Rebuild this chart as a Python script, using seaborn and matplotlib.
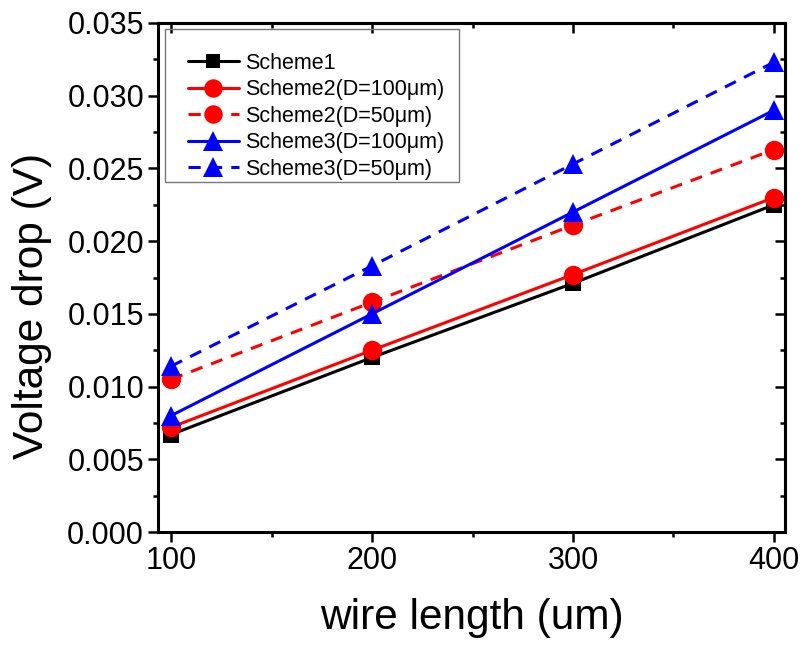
import numpy as np
import pandas as pd
import matplotlib
matplotlib.use("Agg")
import matplotlib.pyplot as plt
import seaborn as sns
from matplotlib.ticker import MultipleLocator
from matplotlib.patches import Rectangle

wire_length = [100, 200, 300, 400]
scheme1 = [0.0067, 0.0120, 0.0171, 0.0225]
scheme2_d100 = [0.0072, 0.0125, 0.0177, 0.0230]
scheme2_d50 = [0.0105, 0.0158, 0.0211, 0.0263]
scheme3_d100 = [0.0080, 0.0150, 0.0220, 0.0290]
scheme3_d50 = [0.0114, 0.0183, 0.0253, 0.0323]

labels = ["Scheme1", "Scheme2(D=100μm)", "Scheme2(D=50μm)",
          "Scheme3(D=100μm)", "Scheme3(D=50μm)"]
series = [scheme1, scheme2_d100, scheme2_d50, scheme3_d100, scheme3_d50]

sns.set_style("ticks")
plt.rcParams['font.family'] = ['Liberation Sans', 'DejaVu Sans']
plt.rcParams.update({
    "text.color": "black", "axes.labelcolor": "black",
    "xtick.color": "black", "ytick.color": "black",
    "axes.edgecolor": "black",
})

fig = plt.figure(figsize=(8.03, 6.48), dpi=100)
ax = fig.add_axes([158/803, 1-532/648, (785-158)/803, (532-23)/648])

styles = [
    dict(color="black", marker="s", ms=11, ls="-"),
    dict(color="#ff0000", marker="o", ms=14, ls="-"),
    dict(color="#ff0000", marker="o", ms=14, ls=(0, (4, 3))),
    dict(color="#0000ff", marker="^", ms=15, ls="-"),
    dict(color="#0000ff", marker="^", ms=15, ls=(0, (4, 3))),
]

for lab, vals, st in zip(labels, series, styles):
    df = pd.DataFrame({"x": wire_length, "y": vals})
    sns.lineplot(data=df, x="x", y="y", ax=ax, color=st["color"],
                 marker=st["marker"], markersize=st["ms"], linestyle=st["ls"],
                 linewidth=2.2, markeredgewidth=0, label=lab)

ax.set_xlim(93.5, 405.5)
ax.set_ylim(0, 0.035)
ax.xaxis.set_major_locator(MultipleLocator(100))
ax.xaxis.set_minor_locator(MultipleLocator(50))
ax.yaxis.set_major_locator(MultipleLocator(0.005))
ax.yaxis.set_minor_locator(MultipleLocator(0.0025))
ax.yaxis.set_major_formatter(matplotlib.ticker.FormatStrFormatter("%.3f"))

for sp in ax.spines.values():
    sp.set_visible(True)
    sp.set_linewidth(2.2)

ax.tick_params(which="major", direction="out", length=7, width=1.8, labelsize=22,
               pad=3, top=False, right=False)
ax.tick_params(which="minor", direction="out", length=3.5, width=1.8,
               top=False, right=False)
axt = ax.secondary_xaxis("top")
axt.xaxis.set_major_locator(MultipleLocator(100))
axt.xaxis.set_minor_locator(MultipleLocator(50))
axt.tick_params(which="major", direction="in", length=7, width=1.8, labeltop=False)
axt.tick_params(which="minor", direction="in", length=3.5, width=1.8)
axr = ax.secondary_yaxis("right")
axr.yaxis.set_major_locator(MultipleLocator(0.005))
axr.yaxis.set_minor_locator(MultipleLocator(0.0025))
axr.tick_params(which="major", direction="in", length=7, width=1.8, labelright=False)
axr.tick_params(which="minor", direction="in", length=3.5, width=1.8)
axt.spines["top"].set_linewidth(2.2)
axr.spines["right"].set_linewidth(2.2)

ax.set_xlabel("wire length (um)", fontsize=30.5)
ax.set_ylabel("Voltage drop (V)", fontsize=30.5)
ax.xaxis.set_label_coords(0.5, -0.13)
ax.yaxis.set_label_coords(-0.169, 0.444)

leg = ax.legend(loc="upper left", bbox_to_anchor=((188-158)/627, (532-53)/509),
                borderaxespad=0, borderpad=0, fontsize=15.5, frameon=False,
                handlelength=2.35, handletextpad=0.28, labelspacing=0.25,
                markerscale=0.95)
ax.add_patch(Rectangle(((165-158)/627, (532-182)/509), 294/627, 153/509,
                       transform=ax.transAxes, fill=False, edgecolor="#777777",
                       linewidth=1.0, zorder=5))

fig.savefig("out.png", dpi=100)
